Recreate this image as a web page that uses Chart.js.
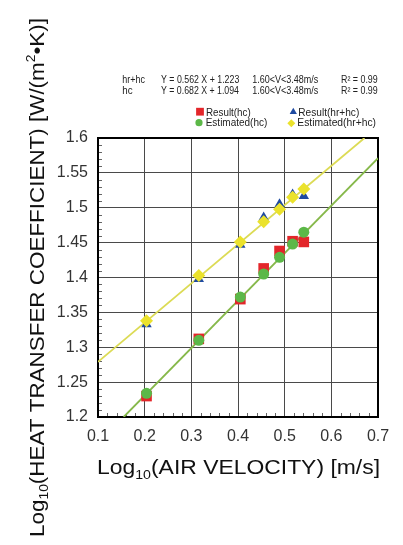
<!DOCTYPE html>
<html><head><meta charset="utf-8">
<script src="https://cdn.jsdelivr.net/npm/chart.js@4.4.0/dist/chart.umd.min.js"></script>
<style>html,body{margin:0;padding:0;background:#fff;}#wrap{width:403px;height:545px;}</style>
</head><body><div id="wrap"><canvas id="c" width="403" height="545"></canvas></div>
<script>
// ---- data ----
const xValues    = [0.204, 0.316, 0.405, 0.455, 0.489, 0.517, 0.541];
const resultHc   = [1.230, 1.312, 1.369, 1.413, 1.438, 1.452, 1.451];
const resultHrHc = [1.333, 1.398, 1.447, 1.486, 1.505, 1.519, 1.517];
const estHc      = [1.234, 1.310, 1.372, 1.405, 1.429, 1.448, 1.465];
const estHrHc    = [1.338, 1.403, 1.451, 1.480, 1.498, 1.515, 1.527];
const fitHrHcX = [0.1, 0.671];
const fitHrHcY = [1.279, 1.6];
const fitHcX   = [0.155, 0.7];
const fitHcY   = [1.2, 1.571];
const xTicks = [0.1, 0.2, 0.3, 0.4, 0.5, 0.6, 0.7];
const xTickLabels = ['0.1','0.2','0.3','0.4','0.5','0.6','0.7'];
const yTicks = [1.2, 1.25, 1.3, 1.35, 1.4, 1.45, 1.5, 1.55, 1.6];
const yTickLabels = ['1.2','1.25','1.3','1.35','1.4','1.45','1.5','1.55','1.6'];
const seriesNames = ['Estimated(hr+hc)','Estimated(hc)','Result(hr+hc)','Result(hc)'];
const equationRows = [
  ['hr+hc', 'Y = 0.562 X + 1.223', '1.60<V<3.48m/s', 'R\u00B2 = 0.99'],
  ['hc',    'Y = 0.682 X + 1.094', '1.60<V<3.48m/s', 'R\u00B2 = 0.99']
];
const xTitleParts = [{t:'Log'},{t:'10',sub:true},{t:'(AIR VELOCITY) [m/s]'}];
const yTitleParts = [{t:'Log'},{t:'10',sub:true},{t:'(HEAT TRANSFER COEFFICIENT) [W/(m'},{t:'2',sup:true},{t:'\u2022K)]'}];

const FONT = "'Liberation Sans', Arial, sans-serif";
const pts = (ys) => xValues.map((x, i) => ({x: x, y: ys[i]}));
const line = (xs, ys) => xs.map((x, i) => ({x: x, y: ys[i]}));

const datasets = [
  {label: seriesNames[0], data: pts(estHrHc), pointStyle: 'rectRot', pointRadius: 6.5, backgroundColor: '#ebe22c', borderWidth: 0},
  {label: seriesNames[1], data: pts(estHc), pointStyle: 'circle', pointRadius: 5.5, backgroundColor: '#5cb848', borderWidth: 0},
  {label: seriesNames[2], data: pts(resultHrHc), pointStyle: 'triangle', pointRadius: 6, backgroundColor: '#1f4aa0', borderWidth: 0},
  {label: seriesNames[3], data: pts(resultHc), pointStyle: 'rect', pointRadius: 7.5, backgroundColor: '#e3262a', borderWidth: 0},
  {label: 'fit hr+hc', data: line(fitHrHcX, fitHrHcY), showLine: true, pointRadius: 0, borderColor: '#dcdb55', borderWidth: 1.8},
  {label: 'fit hc', data: line(fitHcX, fitHcY), showLine: true, pointRadius: 0, borderColor: '#86b84a', borderWidth: 1.8}
];

function drawParts(ctx, parts, targetW, size) {
  const small = Math.round(size * 0.6);
  const widths = parts.map(p => { ctx.font = ((p.sub || p.sup) ? small : size) + 'px ' + FONT; return ctx.measureText(p.t).width; });
  const total = widths.reduce((a, b) => a + b, 0);
  ctx.save();
  ctx.scale(targetW / total, 1);
  let x = 0;
  parts.forEach((p, i) => {
    ctx.font = ((p.sub || p.sup) ? small : size) + 'px ' + FONT;
    const dy = p.sub ? size * 0.22 : (p.sup ? -size * 0.42 : 0);
    ctx.fillText(p.t, x, dy);
    x += widths[i];
  });
  ctx.restore();
}
function fitText(ctx, str, x, y, w, font) {
  ctx.font = font;
  const m = ctx.measureText(str).width;
  ctx.save();
  ctx.translate(x, y);
  ctx.scale(w / m, 1);
  ctx.fillText(str, 0, 0);
  ctx.restore();
}

const decor = {
  id: 'decor',
  beforeDatasetsDraw(chart) {
    const ctx = chart.ctx, a = chart.chartArea, xs = chart.scales.x, ys = chart.scales.y;
    ctx.save();
    ctx.strokeStyle = '#666';
    ctx.lineWidth = 1;
    ctx.beginPath();
    for (let k = 1; k < 40; k++) {
      if (k % 5 === 0) continue;
      const py = Math.round(ys.getPixelForValue(1.2 + k * 0.01)) + 0.5;
      ctx.moveTo(a.left, py); ctx.lineTo(a.left + 4, py);
    }
    for (let k = 1; k < 30; k++) {
      if (k % 5 === 0) continue;
      const px = Math.round(xs.getPixelForValue(0.1 + k * 0.02)) + 0.5;
      ctx.moveTo(px, a.bottom); ctx.lineTo(px, a.bottom - 4);
    }
    ctx.stroke();
    ctx.strokeStyle = '#000';
    ctx.lineWidth = 2;
    ctx.strokeRect(a.left, a.top, a.right - a.left, a.bottom - a.top);
    ctx.restore();
  },
  afterDraw(chart) {
    const ctx = chart.ctx;
    ctx.save();
    ctx.fillStyle = '#111';
    ctx.textBaseline = 'alphabetic';
    ctx.textAlign = 'left';
    // axis titles
    ctx.save(); ctx.translate(97, 474); drawParts(ctx, xTitleParts, 283, 21); ctx.restore();
    ctx.save(); ctx.translate(43.5, 537); ctx.rotate(-Math.PI / 2); drawParts(ctx, yTitleParts, 519, 21); ctx.restore();
    // equations
    ctx.fillStyle = '#222';
    const colX = [122.3, 161, 252.3, 341];
    const rowW = [[22.7, 78.3, 66, 36.7], [10.3, 78, 66, 36.7]];
    const rowY = [83.3, 94.3];
    equationRows.forEach((row, r) => row.forEach((s, c) => fitText(ctx, s, colX[c], rowY[r], rowW[r][c], '10px ' + FONT)));
    // legend
    const ds = chart.data.datasets;
    const items = [
      {i: 3, mx: 200, my: 111.7, tx: 206, ty: 115.5, w: 44.7, r: 5.5},
      {i: 2, mx: 293.3, my: 112, tx: 298.3, ty: 115.5, w: 61, r: 4.2},
      {i: 1, mx: 199, my: 122.7, tx: 205.7, ty: 126.3, w: 61.6, r: 3.6},
      {i: 0, mx: 291.3, my: 123.2, tx: 297.3, ty: 126.3, w: 78.7, r: 4}
    ];
    items.forEach(it => {
      const d = ds[it.i];
      ctx.fillStyle = d.backgroundColor;
      Chart.helpers.drawPoint(ctx, {pointStyle: d.pointStyle, radius: it.r, rotation: 0, borderWidth: 0}, it.mx, it.my);
      ctx.fillStyle = '#222';
      fitText(ctx, d.label, it.tx, it.ty, it.w, '10.5px ' + FONT);
    });
    ctx.restore();
  }
};

new Chart(document.getElementById('c'), {
  type: 'scatter',
  data: {datasets: datasets},
  plugins: [decor],
  options: {
    responsive: false, animation: false, devicePixelRatio: 1,
    layout: {padding: {top: 138, right: 25, bottom: 88, left: 0}},
    plugins: {legend: {display: false}, tooltip: {enabled: false}},
    elements: {line: {tension: 0}},
    scales: {
      x: {
        type: 'linear', min: 0.1, max: 0.7,
        afterBuildTicks: s => { s.ticks = xTicks.map(v => ({value: v})); },
        afterFit: s => { s.height = 40; },
        grid: {color: '#4a4a4a', lineWidth: 1, drawTicks: false},
        border: {color: '#000', width: 2},
        ticks: {font: {family: FONT, size: 16}, color: '#333', padding: 10, maxRotation: 0, autoSkip: false,
                callback: (v, i) => xTickLabels[i]}
      },
      y: {
        type: 'linear', min: 1.2, max: 1.6,
        afterBuildTicks: s => { s.ticks = yTicks.map(v => ({value: v})); },
        afterFit: s => { s.width = 98; },
        grid: {color: '#4a4a4a', lineWidth: 1, drawTicks: false},
        border: {color: '#000', width: 2},
        ticks: {font: {family: FONT, size: 16}, color: '#333', padding: 10, autoSkip: false,
                callback: (v, i) => yTickLabels[i]}
      }
    }
  }
});
</script></body></html>
